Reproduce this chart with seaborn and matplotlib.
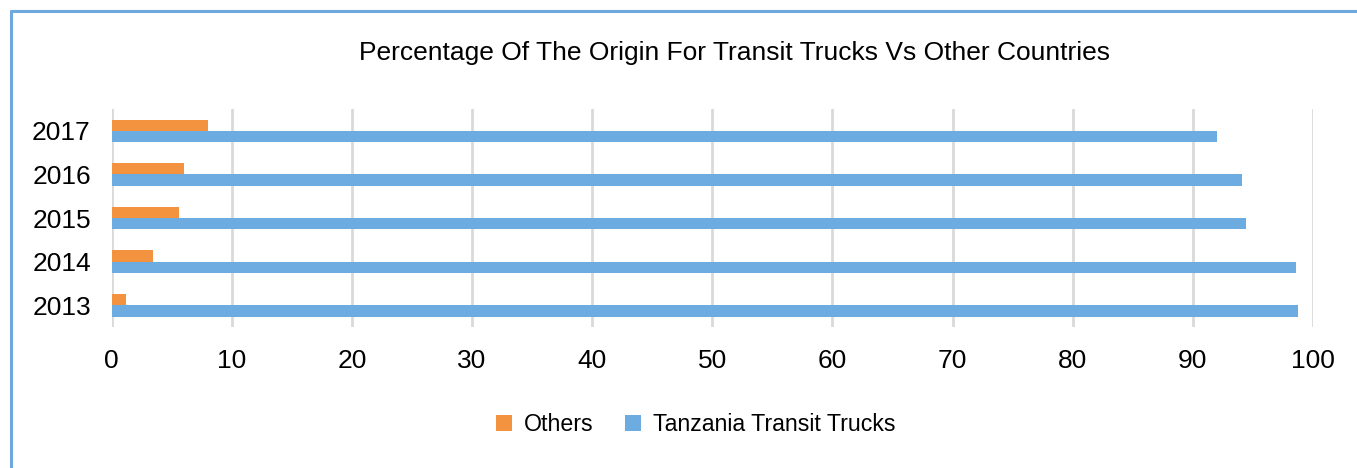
import pandas as pd
import seaborn as sns
import matplotlib.pyplot as plt
from matplotlib.lines import Line2D

# data
years = ['2017', '2016', '2015', '2014', '2013']
others = [8.0, 6.0, 5.6, 3.4, 1.2]
tanzania = [92.0, 94.1, 94.4, 98.6, 98.75]
series_names = ['Others', 'Tanzania Transit Trucks']
colors = ['#F4933F', '#6CACE0']
x_ticks = list(range(0, 101, 10))

df = pd.DataFrame({
    'Year': years * 2,
    'Series': [series_names[0]] * len(years) + [series_names[1]] * len(years),
    'Percent': others + tanzania,
})

sns.set_style('white')
plt.rcParams['font.family'] = ['Liberation Sans', 'DejaVu Sans']
plt.rcParams['text.color'] = 'black'

fig = plt.figure(figsize=(13.57, 4.68), dpi=100)
ax = fig.add_axes([0.0823, 0.301, 0.8853, 0.466])

sns.barplot(
    data=df, x='Percent', y='Year', hue='Series',
    order=years, hue_order=series_names,
    palette=colors, width=0.52, orient='h', ax=ax,
    saturation=1, legend=True, linewidth=0,
)

ax.set_xlim(0, 100)
ax.set_xticks(x_ticks)
ax.set_xlabel('')
ax.set_ylabel('')
ax.grid(axis='x', color='#D9D9D9', linewidth=2)
ax.set_axisbelow(True)
for side in ['top', 'right', 'bottom', 'left']:
    ax.spines[side].set_visible(False)
ax.tick_params(axis='x', length=0, pad=16, labelsize=19, colors='black')
ax.tick_params(axis='y', length=0, pad=15, labelsize=19, colors='black')

# legend at the bottom
handles, labels = ax.get_legend_handles_labels()
ax.get_legend().remove()
fig.legend(handles, labels, loc='center', bbox_to_anchor=(0.5125, 0.092),
           ncol=2, frameon=False, fontsize=16.7, handlelength=0.7,
           handleheight=0.7, handletextpad=0.5, columnspacing=1.35)

fig.text(0.541, 0.886, 'Percentage Of The Origin For Transit Trucks Vs Other Countries',
         ha='center', va='center', fontsize=19, color='black')

# blue frame (top and left edge)
frame_color = '#6FA8DC'
fig.add_artist(Line2D([0.0081, 0.0081], [0, 0.9765], color=frame_color, linewidth=2.2,
                      transform=fig.transFigure))
fig.add_artist(Line2D([0.0081, 1], [0.9765, 0.9765], color=frame_color, linewidth=2.2,
                      transform=fig.transFigure))

fig.savefig('out.png', dpi=100)
